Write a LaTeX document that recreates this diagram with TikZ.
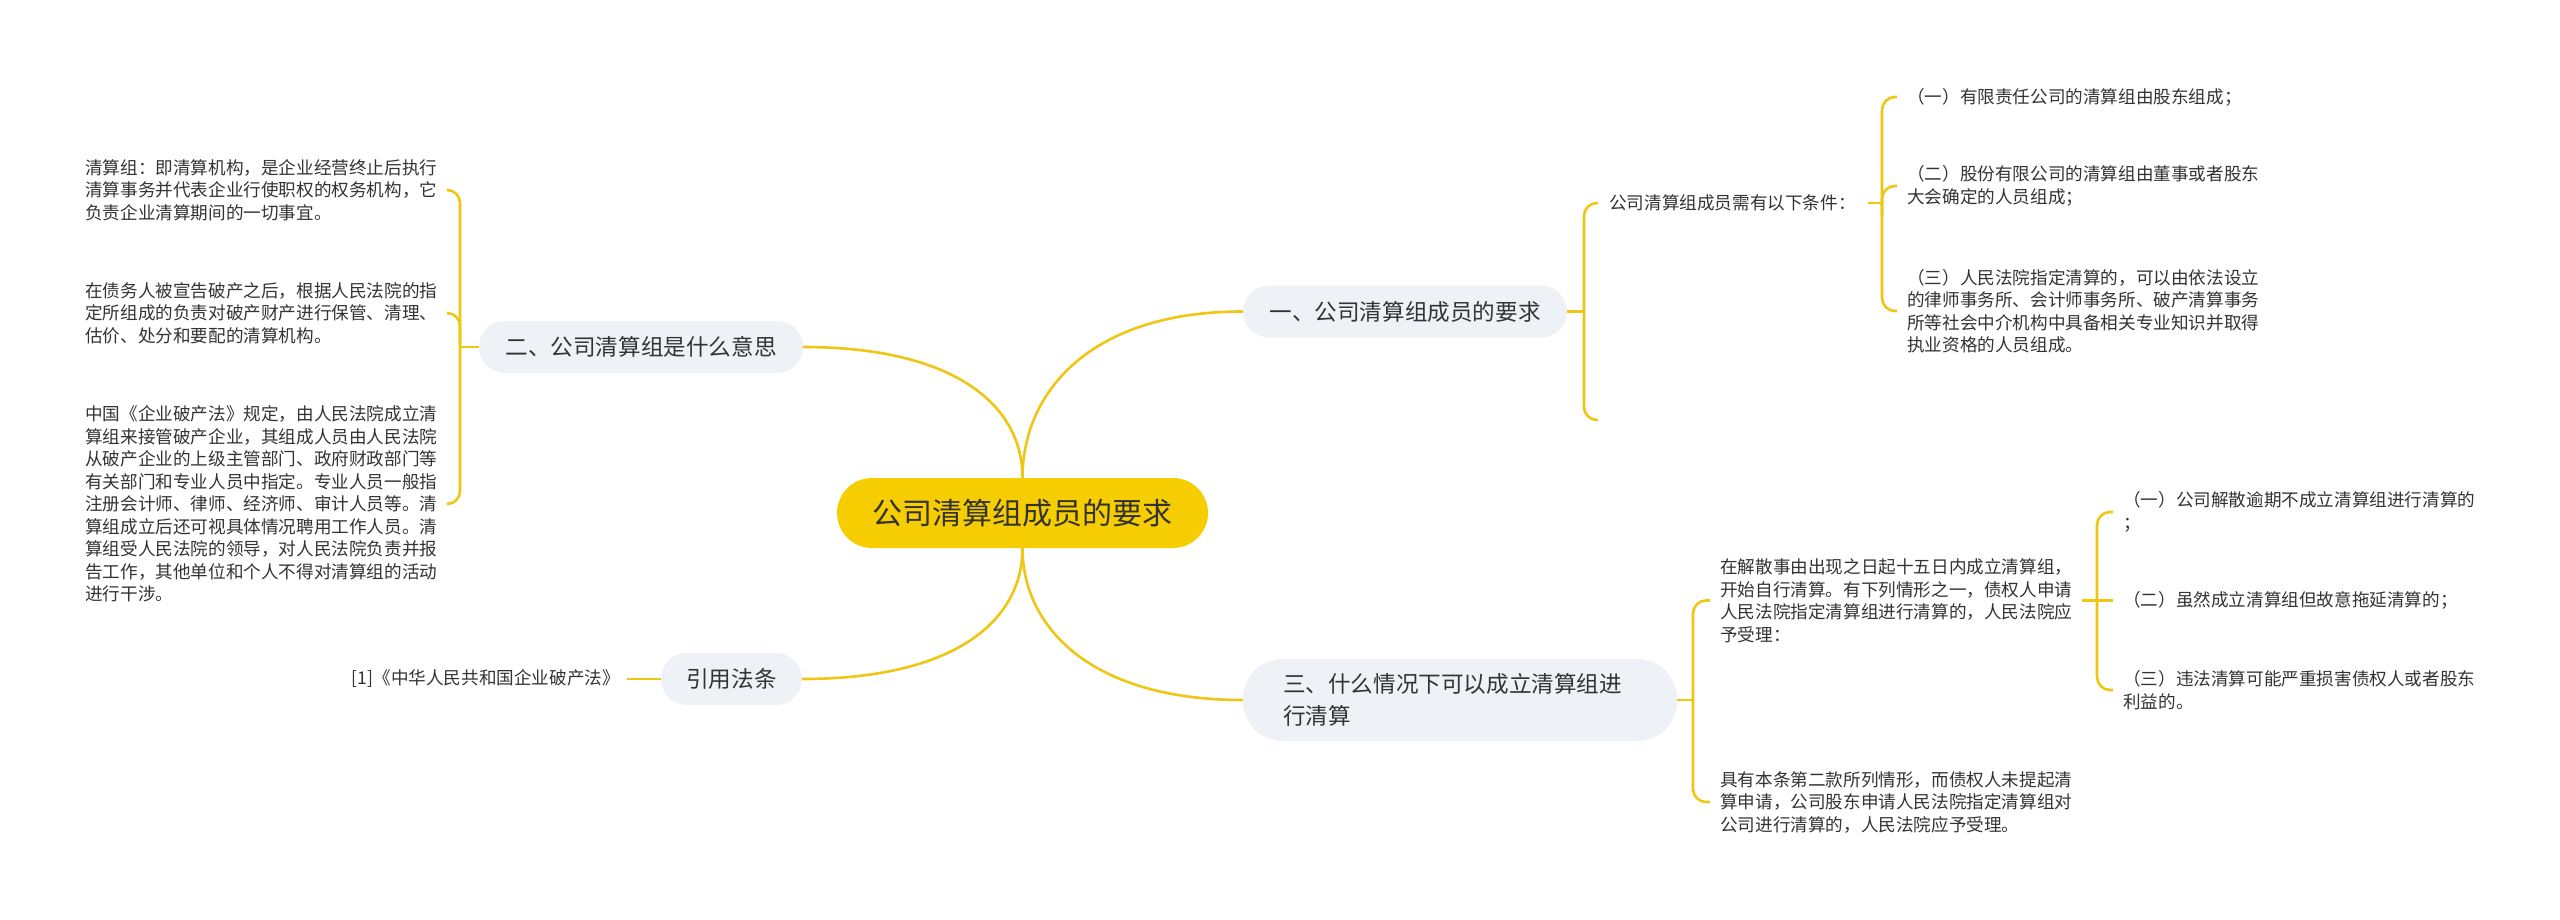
\documentclass[tikz,border=0pt]{standalone}
\usepackage{fontspec}
\setmainfont{Noto Sans CJK SC}
\definecolor{lineY}{RGB}{240,198,20}
\definecolor{rootY}{RGB}{245,205,0}
\definecolor{branchG}{RGB}{238,241,245}
\definecolor{txt}{RGB}{51,51,51}
\begin{document}
\begin{tikzpicture}[x=1pt,y=-1pt,
  br/.style={draw=lineY, line width=2.6pt, rounded corners=13pt},
  cn/.style={draw=lineY, line width=2.6pt},
  leaf/.style={anchor=west, inner sep=0pt, align=left, text=txt, font=\fontsize{17.6pt}{22.5pt}\selectfont},
  branch/.style={fill=branchG, rounded corners=26pt, minimum height=52pt, inner sep=0pt, text=txt, font=\fontsize{22.6pt}{32pt}\selectfont},
]
\useasboundingbox (0,0) rectangle (2560,920);
\fill[white] (0,0) rectangle (2560,920);

% root and branches
\node[fill=rootY, rounded corners=35pt, minimum width=371pt, minimum height=70pt, inner sep=0pt, text=txt, font=\fontsize{30pt}{36pt}\selectfont] (root) at (1022.5,513) {公司清算组成员的要求};
\node[branch, minimum width=324pt] (b1) at (1405,311.5) {一、公司清算组成员的要求};
\node[branch, minimum width=324pt] (b2) at (641,347) {二、公司清算组是什么意思};
\node[branch, minimum width=141pt] (b4) at (731.5,679) {引用法条};
\node[branch, minimum height=82pt, text width=354pt, align=left, inner xsep=40pt, rounded corners=40pt] (b3) at (1460,700) {三、什么情况下可以成立清算组进\\行清算};

\draw[cn] (root.north) .. controls (1022.5,394) and (1088,311.5) .. (b1.west);
\draw[cn] (root.north) .. controls (1022.5,406) and (956,347) .. (b2.east);
\draw[cn] (root.south) .. controls (1022.5,620) and (956,679) .. (b4.east);
\draw[cn] (root.south) .. controls (1022.5,625) and (1088,700) .. (b3.west);

% left: 二
\node[leaf] (l1) at (85,190) {清算组：即清算机构，是企业经营终止后执行\\清算事务并代表企业行使职权的权务机构，它\\负责企业清算期间的一切事宜。};
\node[leaf] (l2) at (85,313) {在债务人被宣告破产之后，根据人民法院的指\\定所组成的负责对破产财产进行保管、清理、\\估价、处分和要配的清算机构。};
\node[leaf] (l3) at (85,504) {中国《企业破产法》规定，由人民法院成立清\\算组来接管破产企业，其组成人员由人民法院\\从破产企业的上级主管部门、政府财政部门等\\有关部门和专业人员中指定。专业人员一般指\\注册会计师、律师、经济师、审计人员等。清\\算组成立后还可视具体情况聘用工作人员。清\\算组受人民法院的领导，对人民法院负责并报\\告工作，其他单位和个人不得对清算组的活动\\进行干涉。};
\coordinate (lb) at (460,347);
\draw[br] ([xshift=11pt]l1.east) -| (lb) |- ([xshift=11pt]l3.east);
\draw[br] ([xshift=11pt]l2.east) -| (460,345);
\draw[cn] (lb) -- (b2.west);

% left: 引用法条
\node[leaf, anchor=east] (r4) at (620,679) {[1]《中华人民共和国企业破产法》};
\draw[cn] ([xshift=7pt]r4.east) -- (b4.west);

% right: 一
\node[leaf] (a1) at (1609,203) {公司清算组成员需有以下条件：};
\coordinate (rb1) at (1584,311.5);
\coordinate (a1low) at (1598,420);
\draw[br] ([xshift=-11pt]a1.west) -| (rb1) |- (a1low);
\draw[cn] (b1.east) -- (rb1);

\node[leaf] (a11) at (1907,97) {（一）有限责任公司的清算组由股东组成；};
\node[leaf] (a12) at (1907,186) {（二）股份有限公司的清算组由董事或者股东\\大会确定的人员组成；};
\node[leaf] (a13) at (1907,311) {（三）人民法院指定清算的，可以由依法设立\\的律师事务所、会计师事务所、破产清算事务\\所等社会中介机构中具备相关专业知识并取得\\执业资格的人员组成。};
\coordinate (rb2) at (1882,203);
\draw[br] ([xshift=-10pt]a11.west) -| (rb2) |- ([xshift=-10pt]a13.west);
\draw[br] ([xshift=-10pt]a12.west) -| (1882,215);
\draw[cn] ([xshift=12pt]a1.east) -- (rb2);

% right: 三
\node[leaf] (c1) at (1720,600.5) {在解散事由出现之日起十五日内成立清算组，\\开始自行清算。有下列情形之一，债权人申请\\人民法院指定清算组进行清算的，人民法院应\\予受理：};
\node[leaf] (c2) at (1720,802) {具有本条第二款所列情形，而债权人未提起清\\算申请，公司股东申请人民法院指定清算组对\\公司进行清算的，人民法院应予受理。};
\coordinate (rb3) at (1693,700);
\draw[br] ([xshift=-10pt]c1.west) -| (rb3) |- ([xshift=-10pt]c2.west);
\draw[cn] (b3.east) -- (rb3);

\node[leaf] (d1) at (2123,512) {（一）公司解散逾期不成立清算组进行清算的\\；};
\node[leaf] (d2) at (2123,600.5) {（二）虽然成立清算组但故意拖延清算的；};
\node[leaf] (d3) at (2123,690) {（三）违法清算可能严重损害债权人或者股东\\利益的。};
\coordinate (rb4) at (2097,600.5);
\draw[br] ([xshift=-10pt]d1.west) -| (rb4) |- ([xshift=-10pt]d3.west);
\draw[cn] ([xshift=10pt]c1.east) -- ([xshift=-10pt]d2.west);
\end{tikzpicture}
\end{document}
